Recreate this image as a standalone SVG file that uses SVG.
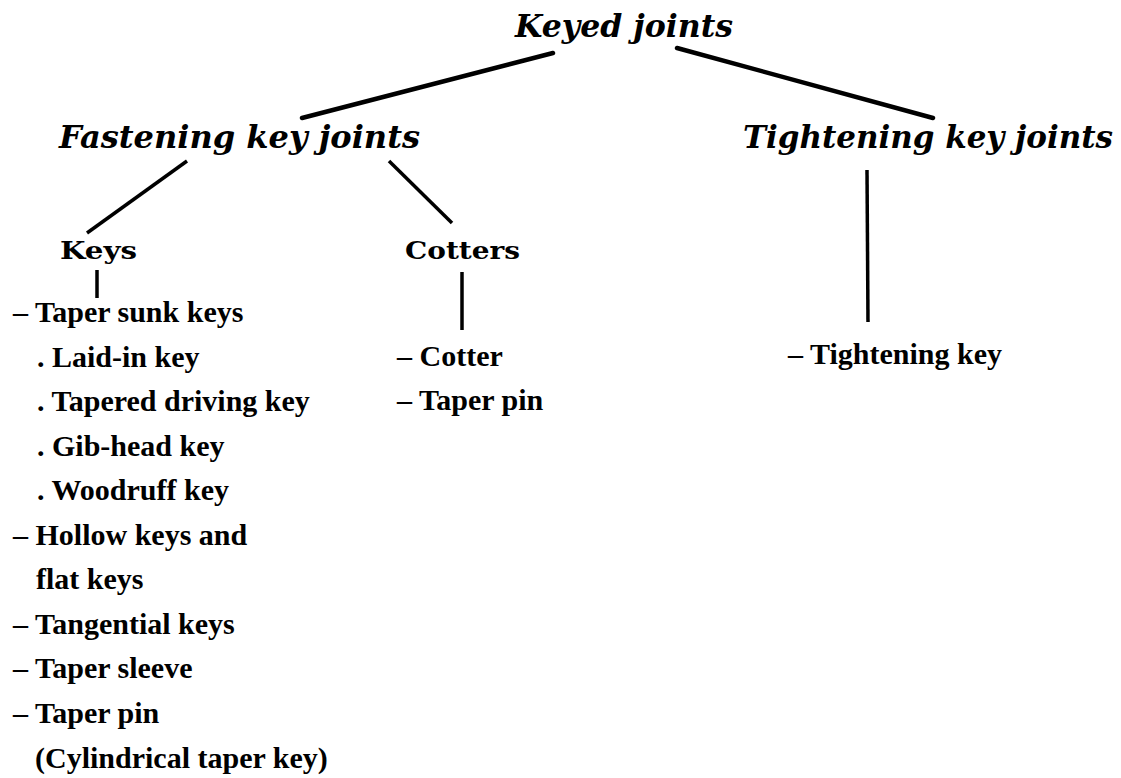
<svg xmlns="http://www.w3.org/2000/svg" width="1121" height="778" viewBox="0 0 1121 778">
<style>
.h{font-family:"DejaVu Serif",serif;font-style:italic;font-weight:bold;font-size:31px;fill:#000}
.s{font-family:"DejaVu Serif",serif;font-weight:bold;font-size:24px;fill:#000}
.l{font-family:"Liberation Serif",serif;font-weight:bold;font-size:30px;fill:#000}
.c{stroke:#000;stroke-width:4.5;stroke-linecap:round;fill:none}
.v{stroke:#000;stroke-width:3.5;fill:none}
</style>
<rect width="1121" height="778" fill="#fff"/>
<g id="connectors">
<line class="c" x1="553" y1="53" x2="302" y2="118"/>
<line class="c" x1="677" y1="48" x2="933" y2="118"/>
<line class="v" x1="187" y1="161" x2="87" y2="233"/>
<line class="v" x1="389" y1="161" x2="452" y2="223"/>
<line class="v" x1="97" y1="270" x2="97" y2="298"/>
<line class="v" x1="462" y1="272" x2="462" y2="330"/>
<line class="v" x1="867" y1="170" x2="868" y2="322"/>
</g>
<g id="keyed-joints"><text class="h" x="515" y="37" textLength="218" lengthAdjust="spacingAndGlyphs">Keyed joints</text></g>
<g id="fastening-key-joints"><text class="h" x="59" y="148" textLength="361" lengthAdjust="spacingAndGlyphs">Fastening key joints</text></g>
<g id="tightening-key-joints"><text class="h" x="743" y="148" textLength="370" lengthAdjust="spacingAndGlyphs">Tightening key joints</text></g>
<g id="keys"><text class="s" x="60" y="259" textLength="77" lengthAdjust="spacingAndGlyphs">Keys</text></g>
<g id="cotters"><text class="s" x="405" y="259" textLength="115" lengthAdjust="spacingAndGlyphs">Cotters</text></g>
<g id="keys-list">
<text class="l" x="13" y="322">– Taper sunk keys</text>
<text class="l" x="37" y="367">. Laid-in key</text>
<text class="l" x="37" y="411">. Tapered driving key</text>
<text class="l" x="37" y="456">. Gib-head key</text>
<text class="l" x="37" y="500">. Woodruff key</text>
<text class="l" x="13" y="545">– Hollow keys and</text>
<text class="l" x="36" y="589">flat keys</text>
<text class="l" x="13" y="634">– Tangential keys</text>
<text class="l" x="13" y="678">– Taper sleeve</text>
<text class="l" x="13" y="723">– Taper pin</text>
<text class="l" x="35" y="768">(Cylindrical taper key)</text>
</g>
<g id="cotters-list">
<text class="l" x="397" y="366">– Cotter</text>
<text class="l" x="397" y="410">– Taper pin</text>
</g>
<g id="tightening-list">
<text class="l" x="788" y="364">– Tightening key</text>
</g>
</svg>
